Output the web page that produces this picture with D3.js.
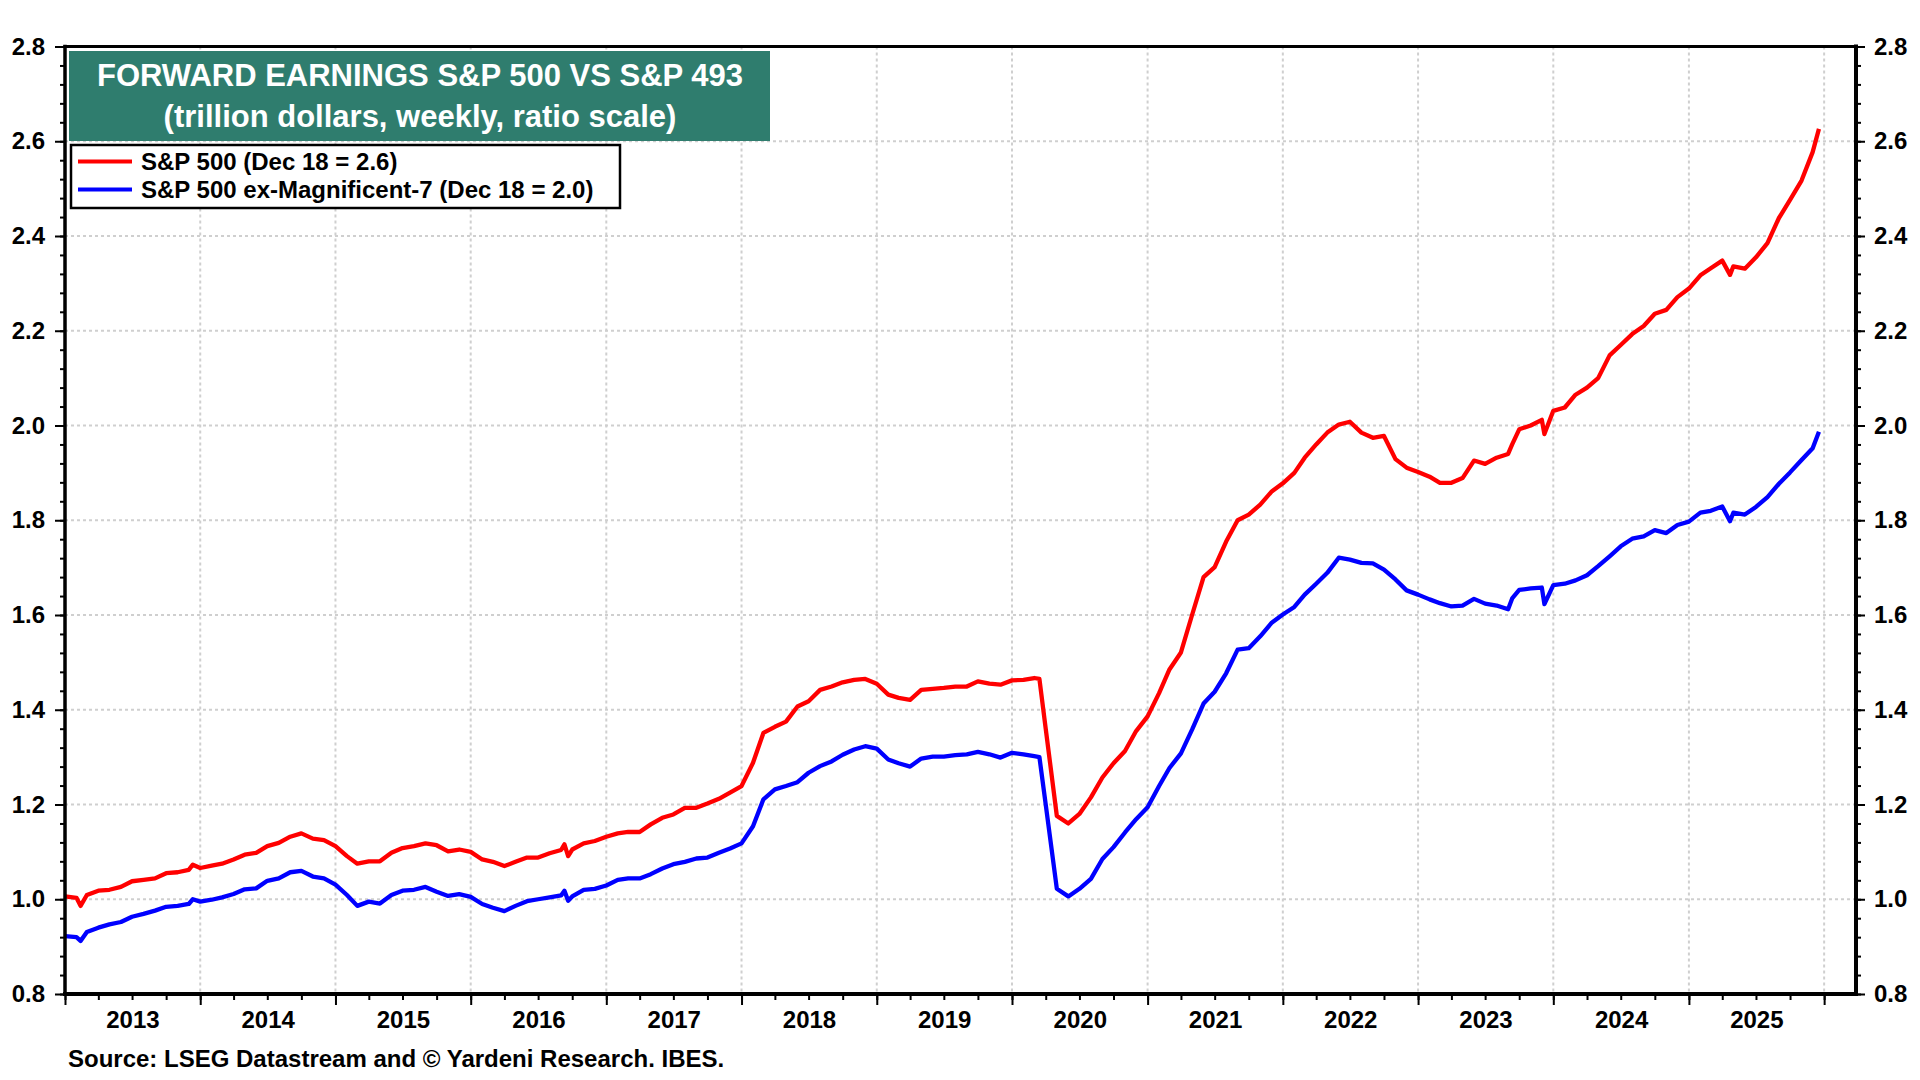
<!DOCTYPE html>
<html>
<head>
<meta charset="utf-8">
<script src="https://cdn.jsdelivr.net/npm/d3@7"></script>
<style>
  html, body { margin: 0; padding: 0; background: #fff; }
  svg { display: block; }
  text { font-family: "Liberation Sans", Arial, Helvetica, sans-serif; font-weight: bold; }
</style>
</head>
<body>
<svg id="chart" width="1920" height="1080"></svg>
<script>
// ---------------- DATA ----------------
const dates = [
 "2013-01-01","2013-02-01","2013-02-12","2013-03-01","2013-04-01","2013-05-01","2013-06-01","2013-07-01","2013-08-01","2013-09-01","2013-10-01","2013-11-01","2013-12-01","2013-12-12",
 "2014-01-01","2014-02-01","2014-03-01","2014-04-01","2014-05-01","2014-06-01","2014-07-01","2014-08-01","2014-09-01","2014-10-01","2014-11-01","2014-12-01",
 "2015-01-01","2015-02-01","2015-03-01","2015-04-01","2015-05-01","2015-06-01","2015-07-01","2015-08-01","2015-09-01","2015-10-01","2015-11-01","2015-12-01",
 "2016-01-01","2016-02-01","2016-03-01","2016-04-01","2016-05-01","2016-06-01","2016-07-01","2016-08-01","2016-09-01","2016-09-10","2016-09-20","2016-10-01","2016-11-01","2016-12-01",
 "2017-01-01","2017-02-01","2017-03-01","2017-04-01","2017-05-01","2017-06-01","2017-07-01","2017-08-01","2017-09-01","2017-10-01","2017-11-01","2017-12-01",
 "2018-01-01","2018-02-01","2018-03-01","2018-04-01","2018-05-01","2018-06-01","2018-07-01","2018-08-01","2018-09-01","2018-10-01","2018-11-01","2018-12-01",
 "2019-01-01","2019-02-01","2019-03-01","2019-04-01","2019-05-01","2019-06-01","2019-07-01","2019-08-01","2019-09-01","2019-10-01","2019-11-01","2019-12-01",
 "2020-01-01","2020-02-01","2020-03-01","2020-03-15","2020-04-01","2020-05-01","2020-06-01","2020-07-01","2020-08-01","2020-09-01","2020-10-01","2020-11-01","2020-12-01",
 "2021-01-01","2021-02-01","2021-03-01","2021-04-01","2021-05-01","2021-06-01","2021-07-01","2021-08-01","2021-09-01","2021-10-01","2021-11-01","2021-12-01",
 "2022-01-01","2022-02-01","2022-03-01","2022-04-01","2022-05-01","2022-06-01","2022-07-01","2022-08-01","2022-09-01","2022-10-01","2022-11-01","2022-12-01",
 "2023-01-01","2023-02-01","2023-03-01","2023-04-01","2023-05-01","2023-06-01","2023-07-01","2023-08-01","2023-09-01","2023-09-12","2023-10-01","2023-11-01","2023-12-01","2023-12-08",
 "2024-01-01","2024-02-01","2024-03-01","2024-04-01","2024-05-01","2024-06-01","2024-07-01","2024-08-01","2024-09-01","2024-10-01","2024-11-01","2024-12-01",
 "2025-01-01","2025-02-01","2025-03-01","2025-04-01","2025-04-22","2025-05-01","2025-06-01","2025-07-01","2025-08-01","2025-09-01","2025-10-01","2025-11-01","2025-12-01","2025-12-18"
];

const sp500 = [
 1.006,1.003,0.986,1.009,1.018,1.020,1.026,1.038,1.041,1.044,1.055,1.057,1.062,1.073,
 1.066,1.071,1.075,1.084,1.094,1.098,1.112,1.119,1.132,1.139,1.128,1.125,
 1.112,1.091,1.075,1.080,1.080,1.098,1.108,1.112,1.118,1.114,1.101,1.105,
 1.100,1.084,1.079,1.070,1.079,1.088,1.088,1.097,1.104,1.116,1.091,1.105,1.118,1.123,
 1.132,1.139,1.142,1.142,1.158,1.172,1.179,1.193,1.193,1.202,1.212,1.225,
 1.239,1.288,1.351,1.364,1.375,1.407,1.418,1.442,1.449,1.458,1.463,1.465,
 1.455,1.432,1.425,1.421,1.442,1.444,1.446,1.449,1.449,1.460,1.455,1.453,
 1.462,1.463,1.467,1.465,1.360,1.176,1.160,1.180,1.215,1.257,1.287,1.313,1.355,
 1.386,1.435,1.485,1.521,1.600,1.680,1.701,1.755,1.800,1.812,1.833,1.860,
 1.878,1.900,1.932,1.960,1.985,2.002,2.008,1.985,1.974,1.978,1.929,1.911,
 1.902,1.892,1.879,1.879,1.889,1.926,1.919,1.932,1.940,1.960,1.992,2.000,2.012,1.982,
 2.031,2.038,2.065,2.080,2.100,2.148,2.170,2.193,2.210,2.236,2.244,2.271,
 2.289,2.317,2.332,2.348,2.318,2.336,2.331,2.355,2.385,2.438,2.476,2.517,2.577,2.626
];

const exMag7 = [
 0.922,0.920,0.912,0.931,0.940,0.947,0.952,0.963,0.969,0.976,0.984,0.986,0.990,1.000,
 0.995,0.999,1.004,1.011,1.021,1.023,1.039,1.044,1.057,1.060,1.048,1.044,
 1.031,1.009,0.986,0.995,0.991,1.009,1.018,1.020,1.026,1.016,1.007,1.011,
 1.005,0.990,0.982,0.975,0.986,0.996,1.000,1.004,1.008,1.018,0.997,1.006,1.020,1.022,
 1.029,1.041,1.044,1.044,1.053,1.065,1.074,1.079,1.086,1.088,1.098,1.107,
 1.118,1.154,1.211,1.232,1.239,1.247,1.267,1.281,1.291,1.305,1.316,1.323,
 1.318,1.295,1.287,1.280,1.297,1.301,1.301,1.304,1.306,1.311,1.306,1.299,
 1.309,1.306,1.302,1.300,1.200,1.022,1.006,1.022,1.043,1.085,1.110,1.141,1.169,
 1.194,1.239,1.277,1.308,1.358,1.413,1.438,1.477,1.527,1.530,1.555,1.583,
 1.601,1.617,1.643,1.666,1.689,1.721,1.717,1.710,1.709,1.696,1.675,1.652,
 1.643,1.633,1.625,1.618,1.620,1.634,1.624,1.620,1.612,1.635,1.653,1.656,1.658,1.623,
 1.663,1.666,1.673,1.684,1.703,1.724,1.745,1.761,1.766,1.779,1.773,1.790,
 1.797,1.816,1.820,1.829,1.798,1.816,1.812,1.828,1.849,1.877,1.901,1.927,1.952,1.987
];

const yTickValues = [0.8, 1.0, 1.2, 1.4, 1.6, 1.8, 2.0, 2.2, 2.4, 2.6, 2.8];
const yearLabels = ["2013","2014","2015","2016","2017","2018","2019","2020","2021","2022","2023","2024","2025"];
const xDomain = ["2013-01-01", "2026-03-28"];
const titleLines = ["FORWARD EARNINGS S&P 500 VS S&P 493", "(trillion dollars, weekly, ratio scale)"];
const legendLabels = ["S&P 500 (Dec 18 = 2.6)", "S&P 500 ex-Magnificent-7 (Dec 18 = 2.0)"];
const sourceText = "Source: LSEG Datastream and \u00A9 Yardeni Research. IBES.";

// ---------------- LAYOUT ----------------
const L = 65, R = 1856, T = 46.5, B = 994;
const parse = d3.timeParse("%Y-%m-%d");
const svg = d3.select("#chart");

const x = d3.scaleTime().domain(xDomain.map(parse)).range([L, R]);
const y = d3.scaleLinear().domain([0.8, 2.8]).range([B, T]);

const FONT = 24;

// gridlines
const grid = svg.append("g");
grid.selectAll("line.h").data(yTickValues.filter(v => v > 0.81 && v < 2.79)).join("line")
  .attr("x1", L).attr("x2", R).attr("y1", d => y(d)).attr("y2", d => y(d))
  .attr("stroke", "#cfcfcf").attr("stroke-width", 2).attr("stroke-dasharray", "3,3");
const yearStarts = d3.timeYear.range(parse("2014-01-01"), parse("2026-01-02"));
grid.selectAll("line.v").data(yearStarts).join("line")
  .attr("x1", d => x(d)).attr("x2", d => x(d)).attr("y1", T).attr("y2", B)
  .attr("stroke", "#cfcfcf").attr("stroke-width", 2).attr("stroke-dasharray", "3,3");

// lines
const pts = dates.map((d, i) => ({ date: parse(d), a: sp500[i], b: exMag7[i] }));
const lineA = d3.line().x(d => x(d.date)).y(d => y(d.a));
const lineB = d3.line().x(d => x(d.date)).y(d => y(d.b));
svg.append("path").datum(pts).attr("d", lineB).attr("fill", "none")
  .attr("stroke", "#0000ff").attr("stroke-width", 4.3).attr("stroke-linejoin", "round");
svg.append("path").datum(pts).attr("d", lineA).attr("fill", "none")
  .attr("stroke", "#ff0000").attr("stroke-width", 4.3).attr("stroke-linejoin", "round");

// axes
function styleAxis(g) {
  g.select(".domain").remove();
  g.selectAll(".tick line").attr("stroke", "#000").attr("stroke-width", 2);
  g.selectAll(".tick text").attr("fill", "#000").style("font-size", FONT + "px")
    .style("font-weight", "bold").style("font-family", '"Liberation Sans", Arial, sans-serif');
}
const fmt = d3.format(".1f");
const minorY = d3.range(0, 51).map(i => +(0.8 + i * 0.04).toFixed(2));

svg.append("g").attr("transform", `translate(${L},0)`)
  .call(d3.axisLeft(y).tickValues(minorY).tickSize(5).tickFormat(""))
  .call(styleAxis);
svg.append("g").attr("transform", `translate(${L},0)`)
  .call(d3.axisLeft(y).tickValues(yTickValues).tickSize(10).tickPadding(10).tickFormat(fmt))
  .call(styleAxis);
svg.append("g").attr("transform", `translate(${R},0)`)
  .call(d3.axisRight(y).tickValues(minorY).tickSize(5).tickFormat(""))
  .call(styleAxis);
svg.append("g").attr("transform", `translate(${R},0)`)
  .call(d3.axisRight(y).tickValues(yTickValues).tickSize(9).tickPadding(9).tickFormat(fmt))
  .call(styleAxis);

const quarters = d3.timeMonth.every(3).range(parse("2013-01-01"), parse("2026-03-28"));
svg.append("g").attr("transform", `translate(0,${B})`)
  .call(d3.axisBottom(x).tickValues(quarters).tickSize(6).tickFormat(""))
  .call(styleAxis);
svg.append("g").attr("transform", `translate(0,${B})`)
  .call(d3.axisBottom(x).tickValues(d3.timeYear.range(parse("2013-01-01"), parse("2026-01-02"))).tickSize(11).tickFormat(""))
  .call(styleAxis);
const labelDates = yearLabels.map(yr => parse(yr + "-07-02"));
svg.append("g").attr("transform", `translate(0,${B})`)
  .call(d3.axisBottom(x).tickValues(labelDates).tickSize(0).tickPadding(17)
    .tickFormat((d, i) => yearLabels[i]))
  .call(styleAxis);

// frame
const frame = svg.append("g").attr("stroke", "#000").attr("stroke-linecap", "square");
frame.append("line").attr("x1", L).attr("x2", R).attr("y1", T).attr("y2", T).attr("stroke-width", 3);
frame.append("line").attr("x1", L).attr("x2", R).attr("y1", B).attr("y2", B).attr("stroke-width", 4);
frame.append("line").attr("x1", L).attr("x2", L).attr("y1", T).attr("y2", B).attr("stroke-width", 3.5);
frame.append("line").attr("x1", R).attr("x2", R).attr("y1", T).attr("y2", B).attr("stroke-width", 4);

// title box
svg.append("rect").attr("x", 69).attr("y", 51).attr("width", 701).attr("height", 90)
  .attr("fill", "#2f7d6e");
svg.selectAll("text.title").data(titleLines).join("text")
  .attr("x", 420).attr("y", (d, i) => i === 0 ? 86 : 127)
  .attr("text-anchor", "middle").attr("fill", "#fff")
  .style("font-size", "31px").text(d => d);

// legend
svg.append("rect").attr("x", 71).attr("y", 145).attr("width", 549).attr("height", 63)
  .attr("fill", "#fff").attr("stroke", "#000").attr("stroke-width", 2.5);
const legendColors = ["#ff0000", "#0000ff"];
const legRows = [161.5, 189.5];
legendLabels.forEach((lab, i) => {
  svg.append("line").attr("x1", 78).attr("x2", 132).attr("y1", legRows[i]).attr("y2", legRows[i])
    .attr("stroke", legendColors[i]).attr("stroke-width", 4);
  svg.append("text").attr("x", 141).attr("y", legRows[i] + 8.5)
    .style("font-size", FONT + "px").attr("fill", "#000").text(lab);
});

// source
svg.append("text").attr("x", 68).attr("y", 1067).style("font-size", FONT + "px")
  .attr("fill", "#000").text(sourceText);
</script>
</body>
</html>
